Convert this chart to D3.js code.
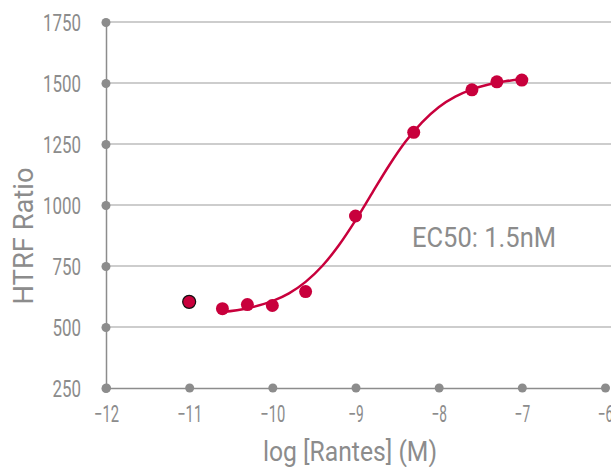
<!DOCTYPE html>
<html><head><meta charset="utf-8">
<script src="https://cdn.jsdelivr.net/npm/d3@7"></script>
<style>
body{margin:0;background:#fff;}
svg text{font-family:"Roboto","Liberation Sans",sans-serif;fill:#8c8c8c;}
</style></head>
<body><svg id="c" width="611" height="467"></svg>
<script>
// data
const logConc = [-10.6, -10.3, -10, -9.6, -9, -8.3, -7.6, -7.3, -7];
const ratio   = [575, 592, 588, 645, 955, 1298, 1472, 1505, 1512];
const outlierX = [-11];
const outlierY = [603];
// fitted curve
const curveX = [-10.6,-10.3,-10,-9.8,-9.6,-9.4,-9.2,-9,-8.8,-8.6,-8.4,-8.2,-8,-7.8,-7.6,-7.4,-7.2,-7];
const curveY = [561,577,606,638,685,750,835,937,1049,1160,1259,1339,1401,1444,1474,1494,1507,1515];
const xTicks = [-12,-11,-10,-9,-8,-7,-6];
const yTicks = [250,500,750,1000,1250,1500,1750];
const annotation = "EC50: 1.5nM";
const xTitle = "log [Rantes] (M)";
const yTitle = "HTRF Ratio";

const svg = d3.select("#c");
const x = d3.scaleLinear().domain([-12,-6]).range([106,605]);
const y = d3.scaleLinear().domain([250,1750]).range([388,22]);
const grey = "#8c8c8c";
const numLen = s => { let w=0; for (const c of s) w += (c==="-") ? 6 : 9.5; return w; };

// gridlines
svg.append("g").selectAll("line").data(yTicks.slice(1)).join("line")
  .attr("x1",x(-12)).attr("x2",611).attr("y1",d=>y(d)).attr("y2",d=>y(d))
  .attr("stroke","#bdbdbd").attr("stroke-width",1.5);

// y axis
const yAxis = svg.append("g").attr("transform",`translate(${x(-12)},0)`)
  .call(d3.axisLeft(y).tickValues(yTicks).tickFormat(d3.format("d")).tickSize(0).tickPadding(25));
yAxis.select(".domain").attr("stroke",grey).attr("stroke-width",1.5);
yAxis.selectAll("text").attr("font-size",24).attr("fill",grey).attr("font-family",null)
  .attr("dy","0.36em")
  .attr("textLength",d=>numLen(String(d))).attr("lengthAdjust","spacingAndGlyphs");
yAxis.selectAll(".tick").append("circle").attr("r",4.5).attr("fill",grey);

// x axis
const xAxis = svg.append("g").attr("transform",`translate(0,${y(250)})`)
  .call(d3.axisBottom(x).tickValues(xTicks).tickFormat(d3.format("d")).tickSize(0).tickPadding(26));
xAxis.select(".domain").attr("stroke",grey).attr("stroke-width",1.5);
xAxis.selectAll("text").attr("font-size",23).attr("fill",grey).attr("font-family",null)
  .attr("dy","0.36em")
  .attr("textLength",d=>numLen(String(d))).attr("lengthAdjust","spacingAndGlyphs");
xAxis.selectAll(".tick").append("circle").attr("r",4.5).attr("fill",grey);

// titles
svg.append("text").attr("x",350).attr("y",461).attr("text-anchor","middle")
  .attr("font-size",27).attr("textLength",174).attr("lengthAdjust","spacingAndGlyphs").text(xTitle);
svg.append("text").attr("transform","translate(33,236) rotate(-90)").attr("text-anchor","middle")
  .attr("font-size",27).attr("textLength",137).attr("lengthAdjust","spacingAndGlyphs").text(yTitle);
svg.append("text").attr("x",412).attr("y",247).attr("font-size",28)
  .attr("textLength",144).attr("lengthAdjust","spacingAndGlyphs").text(annotation);

const red = "#c8003c";
// curve
const line = d3.line().x(d=>x(d[0])).y(d=>y(d[1])).curve(d3.curveMonotoneX);
svg.append("path").datum(curveX.map((v,i)=>[v,curveY[i]]))
  .attr("d",line).attr("fill","none").attr("stroke",red).attr("stroke-width",2.5);

// points
svg.append("g").selectAll("circle").data(logConc.map((v,i)=>[v,ratio[i]])).join("circle")
  .attr("cx",d=>x(d[0])).attr("cy",d=>y(d[1])).attr("r",6.5).attr("fill",red);
svg.append("g").selectAll("circle").data(outlierX.map((v,i)=>[v,outlierY[i]])).join("circle")
  .attr("cx",d=>x(d[0])).attr("cy",d=>y(d[1])).attr("r",6.5).attr("fill",red)
  .attr("stroke","#111").attr("stroke-width",1.2);
</script></body></html>
